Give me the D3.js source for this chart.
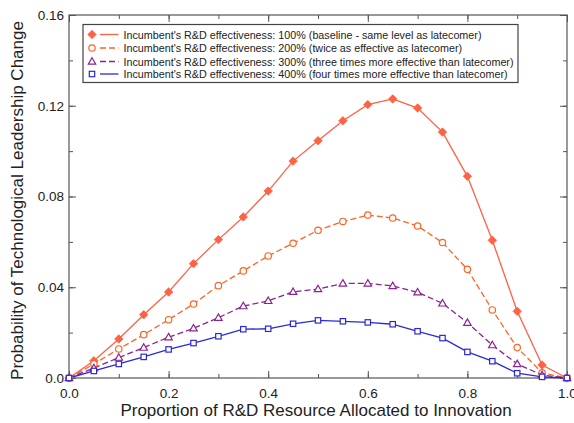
<!DOCTYPE html>
<html><head><meta charset="utf-8">
<script src="https://cdn.jsdelivr.net/npm/d3@7"></script>
<style>body{margin:0;background:#fff;}svg{display:block;font-family:"Liberation Sans",Arial,Helvetica,sans-serif;}</style>
</head><body>
<svg id="c" width="574" height="423"></svg>
<script>
const xValues = [0,0.05,0.1,0.15,0.2,0.25,0.3,0.35,0.4,0.45,0.5,0.55,0.6,0.65,0.7,0.75,0.8,0.85,0.9,0.95,1.0];
const eff100 = [0,0.0076,0.0172,0.0279,0.0379,0.0504,0.061,0.071,0.0824,0.0956,0.1046,0.1134,0.1205,0.123,0.119,0.1084,0.0889,0.0607,0.0294,0.0057,0];
const eff200 = [0,0.0062,0.0128,0.0191,0.0257,0.0326,0.0407,0.0472,0.0538,0.0594,0.0651,0.069,0.0718,0.0705,0.067,0.0597,0.0479,0.03,0.0134,0.0023,0];
const eff300 = [0,0.0044,0.009,0.0134,0.018,0.0219,0.0266,0.0317,0.034,0.038,0.0392,0.0417,0.0417,0.0406,0.0378,0.0329,0.0244,0.0145,0.0062,0.0013,0];
const eff400 = [0,0.0031,0.0062,0.0093,0.0126,0.0154,0.0184,0.0215,0.0217,0.0239,0.0254,0.025,0.0245,0.0237,0.0206,0.0176,0.0115,0.0074,0.0021,0.0005,0];
const seriesNames = [
  "Incumbent's R&D effectiveness: 100% (baseline - same level as latecomer)",
  "Incumbent's R&D effectiveness: 200% (twice as effective as latecomer)",
  "Incumbent's R&D effectiveness: 300% (three times more effective than latecomer)",
  "Incumbent's R&D effectiveness: 400% (four times more effective than latecomer)"
];
const xTickValues = [0,0.2,0.4,0.6,0.8,1.0];
const xTickLabels = ["0.0","0.2","0.4","0.6","0.8","1.0"];
const yTickValues = [0,0.04,0.08,0.12,0.16];
const yTickLabels = ["0.0","0.04","0.08","0.12","0.16"];
const xTitle = "Proportion of R&D Resource Allocated to Innovation";
const yTitle = "Probability of Technological Leadership Change";

const styles = [
  {color:"#ff6144", dash:null, marker:"diamond"},
  {color:"#ff6422", dash:"6,3", marker:"circle"},
  {color:"#8a2490", dash:"6,3", marker:"triangle"},
  {color:"#2a2ad8", dash:null, marker:"square"}
];
const allSeries = [eff100, eff200, eff300, eff400];

const svg = d3.select("#c");
const L=69, R=567, T=15, B=378;
const x = d3.scaleLinear().domain([0,1]).range([L,R]);
const y = d3.scaleLinear().domain([0,0.16]).range([B,T]);

svg.append("rect").attr("x",L).attr("y",T).attr("width",R-L).attr("height",B-T)
  .attr("fill","none").attr("stroke","#555").attr("stroke-width",1.2);

const axisColor="#555";
function ticks(g){ g.selectAll(".domain").remove(); g.selectAll("line").attr("stroke",axisColor); }
const xMinor = d3.range(0,1.0001,0.1);
const yMinor = d3.range(0,0.16001,0.02);
svg.append("g").attr("transform",`translate(0,${B})`)
  .call(d3.axisBottom(x).tickValues(xMinor).tickSize(-4).tickFormat(""))
  .call(ticks);
svg.append("g").attr("transform",`translate(0,${B})`)
  .call(d3.axisBottom(x).tickValues(xTickValues).tickSize(-7).tickPadding(10).tickFormat((d,i)=>xTickLabels[i]))
  .call(ticks).call(g=>g.selectAll("text").attr("font-size",13.5).attr("fill","#222").attr("font-family",null));
svg.append("g").attr("transform",`translate(0,${T})`)
  .call(d3.axisTop(x).tickValues(xMinor).tickSize(-4).tickFormat("")).call(ticks);
svg.append("g").attr("transform",`translate(0,${T})`)
  .call(d3.axisTop(x).tickValues(xTickValues).tickSize(-7).tickFormat("")).call(ticks);
svg.append("g").attr("transform",`translate(${L},0)`)
  .call(d3.axisLeft(y).tickValues(yMinor).tickSize(-4).tickFormat("")).call(ticks);
svg.append("g").attr("transform",`translate(${L},0)`)
  .call(d3.axisLeft(y).tickValues(yTickValues).tickSize(-7).tickPadding(5).tickFormat((d,i)=>yTickLabels[i]))
  .call(ticks).call(g=>g.selectAll("text").attr("font-size",13.5).attr("fill","#222").attr("font-family",null));
svg.append("g").attr("transform",`translate(${R},0)`)
  .call(d3.axisRight(y).tickValues(yMinor).tickSize(-4).tickFormat("")).call(ticks);
svg.append("g").attr("transform",`translate(${R},0)`)
  .call(d3.axisRight(y).tickValues(yTickValues).tickSize(-7).tickFormat("")).call(ticks);

svg.append("text").attr("x",(L+R)/2-2).attr("y",416).attr("text-anchor","middle")
  .attr("font-size",17).attr("fill","#222").text(xTitle);
svg.append("text").attr("transform",`translate(23,${(T+B)/2+4}) rotate(-90)`).attr("text-anchor","middle")
  .attr("font-size",17).attr("fill","#222").text(yTitle);

function drawMarker(g, type, cx, cy, color){
  if(type==="diamond"){
    g.append("path").attr("d","M0,-4.2L4.2,0L0,4.2L-4.2,0Z").attr("transform",`translate(${cx},${cy})`)
      .attr("fill",color).attr("stroke",color).attr("stroke-width",0.8).attr("stroke-linejoin","round");
  } else if(type==="circle"){
    g.append("circle").attr("cx",cx).attr("cy",cy).attr("r",3.2).attr("fill","#fff").attr("stroke",color).attr("stroke-width",1.2);
  } else if(type==="triangle"){
    g.append("path").attr("d",d3.symbol(d3.symbolTriangle,24)()).attr("transform",`translate(${cx},${cy+0.5})`)
      .attr("fill","#fff").attr("stroke",color).attr("stroke-width",1.2);
  } else {
    g.append("rect").attr("x",cx-2.7).attr("y",cy-2.7).attr("width",5.4).attr("height",5.4)
      .attr("fill","#fff").attr("stroke",color).attr("stroke-width",1.2);
  }
}

const line = d3.line().x((d,i)=>x(xValues[i])).y(d=>y(d));
allSeries.forEach((vals,si)=>{
  const st = styles[si];
  svg.append("path").datum(vals).attr("d",line).attr("fill","none")
    .attr("stroke",st.color).attr("stroke-width",1.3).attr("stroke-dasharray",st.dash);
});
allSeries.forEach((vals,si)=>{
  const st = styles[si];
  const g = svg.append("g");
  vals.forEach((v,i)=>drawMarker(g, st.marker, x(xValues[i]), y(v), st.color));
});

const lg = svg.append("g");
lg.append("rect").attr("x",83).attr("y",24.5).attr("width",435).attr("height",58)
  .attr("fill","#fff").attr("stroke","#444").attr("stroke-width",1.2);
const rowY = [34.5,48,61.5,74];
seriesNames.forEach((name,i)=>{
  const st = styles[i];
  lg.append("line").attr("x1",100).attr("x2",118.5).attr("y1",rowY[i]).attr("y2",rowY[i])
    .attr("stroke",st.color).attr("stroke-width",1.3).attr("stroke-dasharray",st.dash);
  drawMarker(lg, st.marker, 92, rowY[i], st.color);
  lg.append("text").attr("x",123.5).attr("y",rowY[i]+4).attr("font-size",10.75).attr("fill","#222").text(name);
});
</script>
</body></html>
